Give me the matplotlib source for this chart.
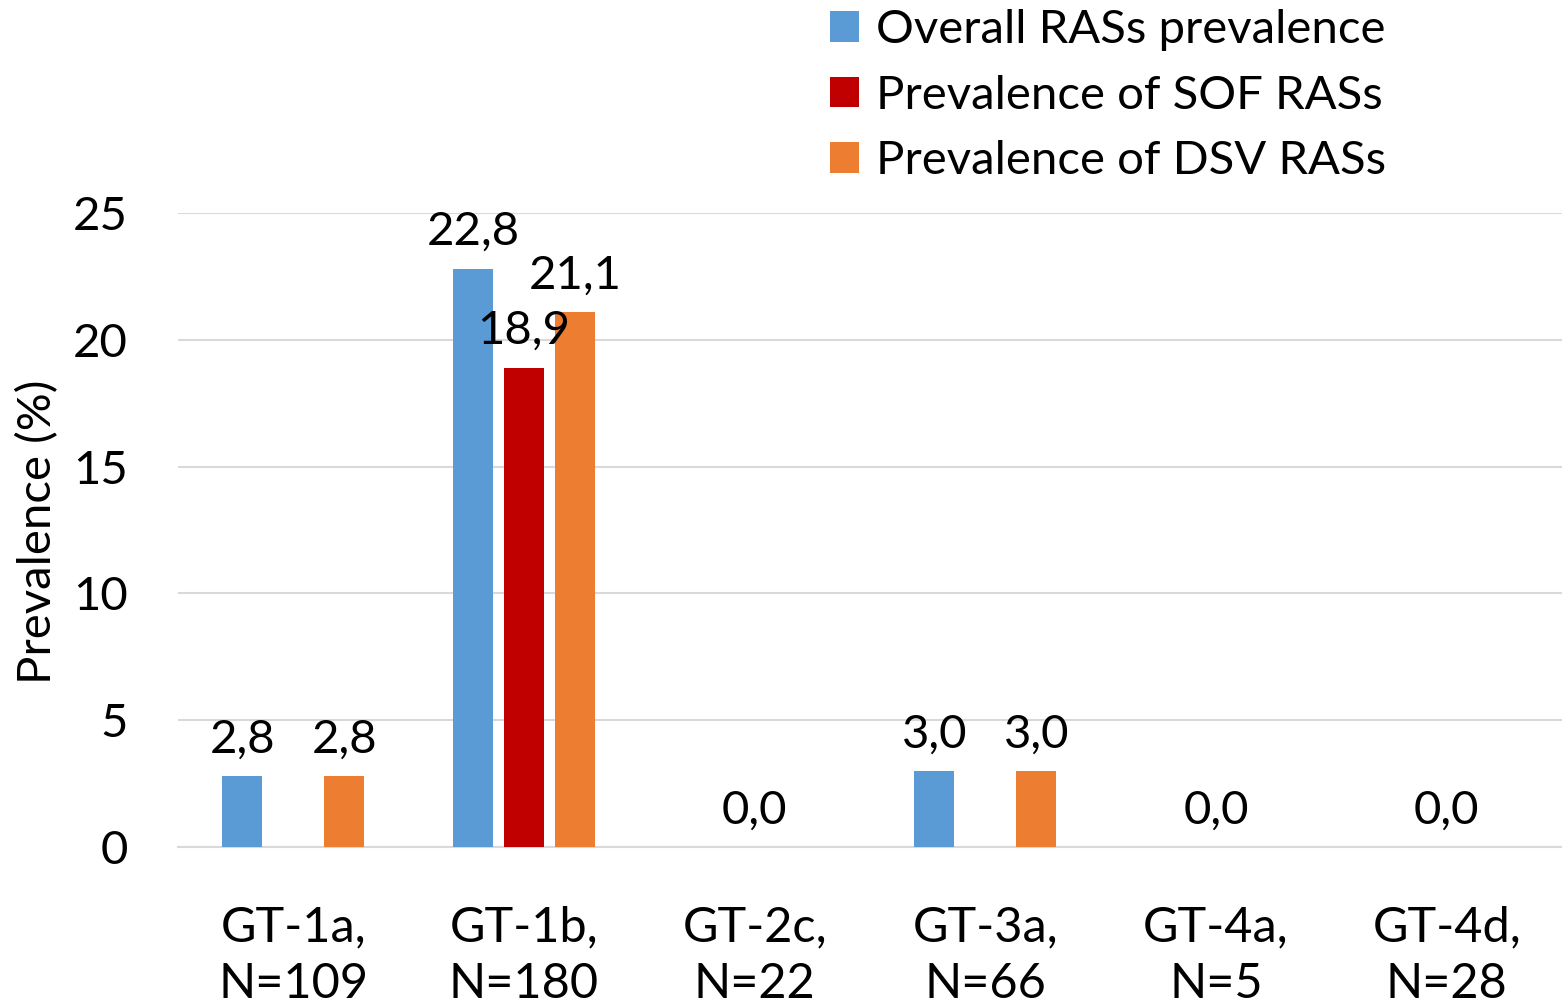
import matplotlib
matplotlib.use("Agg")
import matplotlib.pyplot as plt
import numpy as np
from matplotlib.patches import Patch

categories = ["GT-1a,\nN=109", "GT-1b,\nN=180", "GT-2c,\nN=22",
              "GT-3a,\nN=66", "GT-4a,\nN=5", "GT-4d,\nN=28"]
overall = [2.8, 22.8, 0.0, 3.0, 0.0, 0.0]
sof = [0.0, 18.9, 0.0, 0.0, 0.0, 0.0]
dsv = [2.8, 21.1, 0.0, 3.0, 0.0, 0.0]
series_names = ["Overall RASs prevalence", "Prevalence of SOF RASs", "Prevalence of DSV RASs"]
colors = ["#5B9BD5", "#C00000", "#ED7D31"]
yticks = [0, 5, 10, 15, 20, 25]

FONT = "Lato"
plt.rcParams["font.family"] = [FONT, "DejaVu Sans"]

W, H = 1562, 1002
fig = plt.figure(figsize=(W / 100, H / 100), dpi=100)
ax = fig.add_axes([178 / W, (H - 847) / H, (1562 - 178) / W, (847 - 213) / H])

x = np.arange(len(categories))
width = 0.173
offs = [-0.221, 0.0, 0.221]
data = [overall, sof, dsv]
for vals, off, c in zip(data, offs, colors):
    ax.bar(x + off, vals, width, color=c, zorder=3)

fs = 34
# data labels
for i in range(len(categories)):
    vals = [d[i] for d in data]
    if all(v == 0 for v in vals):
        idxs = [1]
    else:
        idxs = [k for k, v in enumerate(vals) if v != 0]
    for k in idxs:
        v = vals[k]
        ax.annotate(f"{v:.1f}".replace(".", ","), (x[i] + offs[k], v),
                    xytext=(0, 17), textcoords="offset points",
                    ha="center", va="baseline", fontsize=fs, color="black", zorder=4)

ax.set_xlim(-0.5, len(categories) - 0.5)
ax.set_ylim(0, 25)
ax.set_yticks(yticks)
ax.set_yticklabels([str(t) for t in yticks])
ax.set_xticks(x)
ax.set_xticklabels(categories, fontsize=35, linespacing=1.35)
ax.tick_params(axis="y", length=0, pad=36, labelsize=fs, labelcolor="black")
ax.tick_params(axis="x", length=0, pad=42, labelcolor="black")
ax.yaxis.grid(True, color="#D9D9D9", linewidth=1.5, zorder=0)
ax.set_axisbelow(True)
for s in ["top", "right", "left"]:
    ax.spines[s].set_visible(False)
ax.spines["bottom"].set_color("#D9D9D9")
ax.spines["bottom"].set_linewidth(1.5)

fig.text(38 / W, 1 - 532 / H, "Prevalence (%)", rotation=90, ha="center", va="center",
         fontsize=fs, color="black")

handles = [Patch(facecolor=c, edgecolor="none") for c in colors]
leg = fig.legend(handles, series_names, loc="upper left",
                 bbox_to_anchor=(830 / W, 1 - 9 / H), frameon=False, fontsize=fs,
                 handlelength=0.62, handleheight=0.62, handletextpad=0.35,
                 labelspacing=0.5, borderaxespad=0, borderpad=0)

fig.savefig("out.png", dpi=100)
